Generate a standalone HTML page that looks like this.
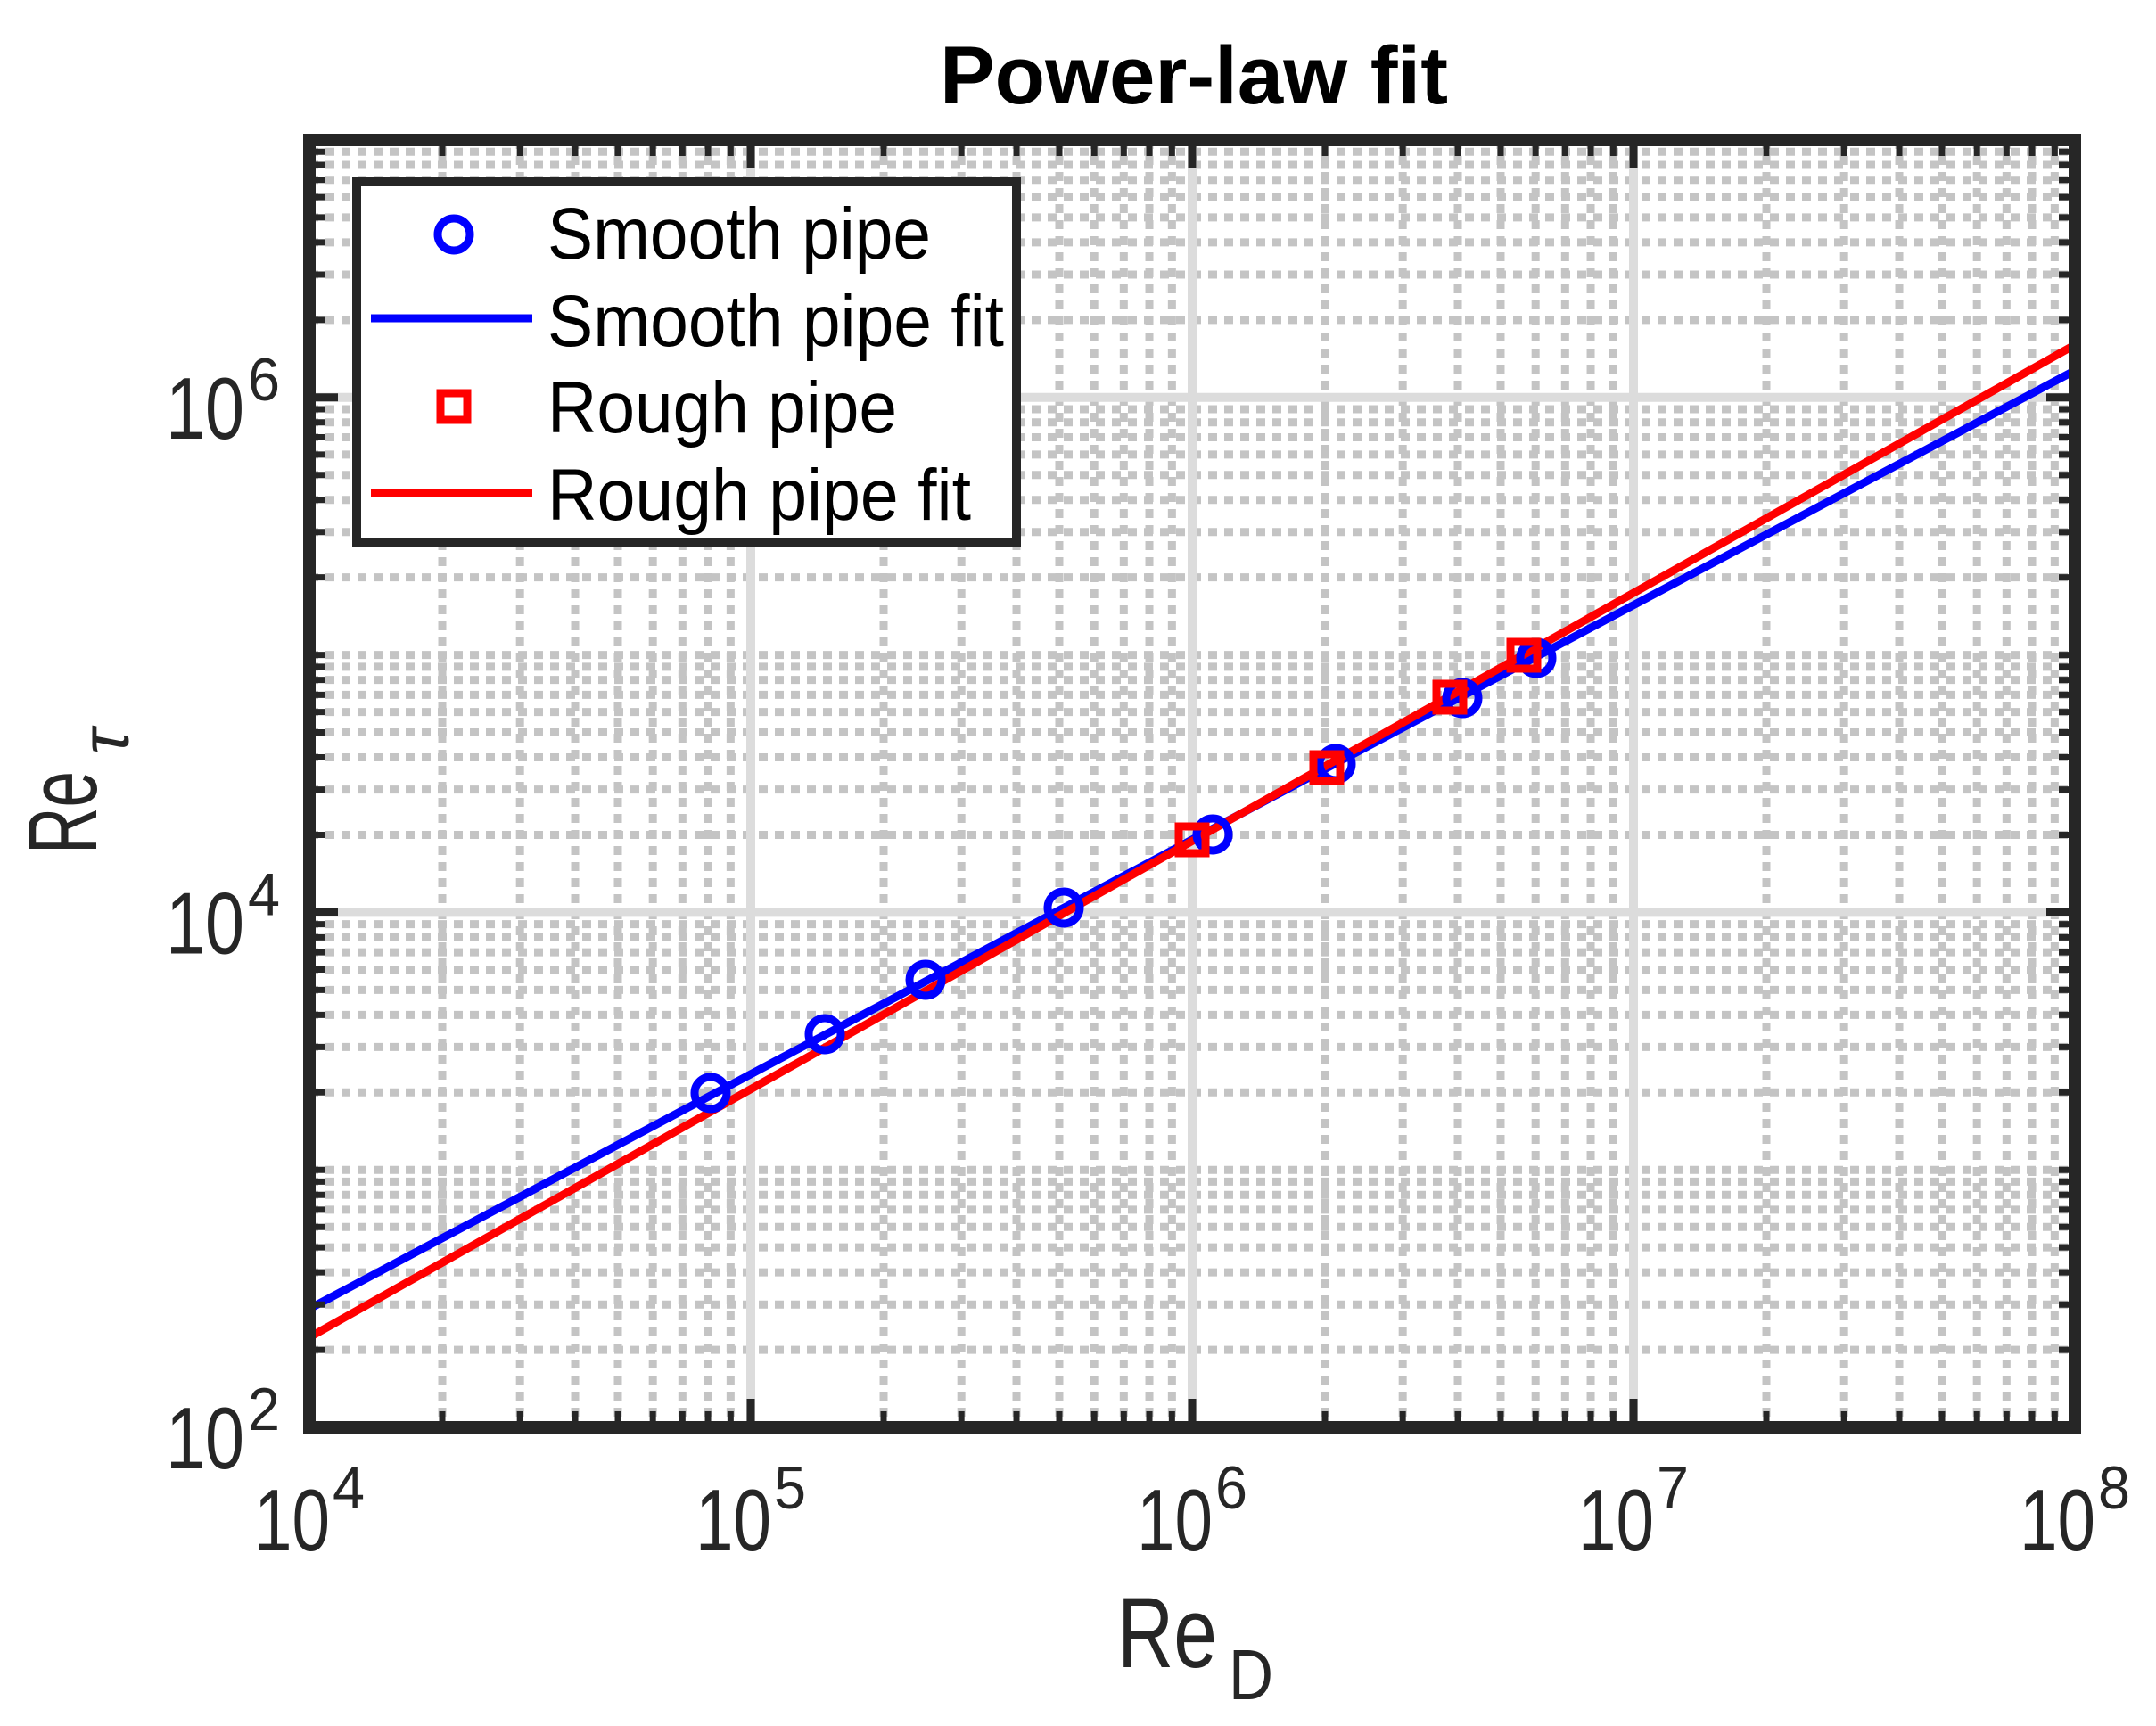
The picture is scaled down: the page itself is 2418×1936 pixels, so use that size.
<!DOCTYPE html>
<html><head><meta charset="utf-8"><style>
html,body{margin:0;padding:0;background:#fff;}
svg{display:block;}
text{font-family:"Liberation Sans",sans-serif;fill:#262626;}
</style></head><body>
<svg id="s" width="2418" height="1936" viewBox="0 0 2418 1936" xmlns="http://www.w3.org/2000/svg">
<rect width="2418" height="1936" fill="#fff"/>
<g id="grid"></g>
<defs><clipPath id="c"><rect x="347" y="157" width="1980" height="1444"/></clipPath></defs>
<g clip-path="url(#c)">
<line x1="347" y1="1468" x2="2332" y2="413" stroke="#0000ff" stroke-width="9"/>
<line x1="347" y1="1500" x2="2332" y2="384" stroke="#ff0000" stroke-width="9"/>
</g>
<g fill="none" stroke="#0000ff" stroke-width="9">
<circle cx="797" cy="1226" r="18"/><circle cx="925" cy="1160" r="18"/><circle cx="1038" cy="1099" r="18"/><circle cx="1193" cy="1018" r="18"/><circle cx="1360" cy="936" r="18"/><circle cx="1498" cy="857" r="18"/><circle cx="1640" cy="783" r="18"/><circle cx="1723" cy="738" r="18"/>
</g>
<g fill="none" stroke="#ff0000" stroke-width="9">
<rect x="1322" y="927" width="30" height="30"/><rect x="1473" y="846" width="30" height="30"/><rect x="1611" y="767" width="30" height="30"/><rect x="1694" y="720" width="30" height="30"/>
</g>
<g id="ticks" stroke="#262626"></g>
<rect x="347" y="157" width="1980" height="1444" fill="none" stroke="#262626" stroke-width="14"/>
<rect x="400" y="204" width="740" height="404" fill="#fff" stroke="#262626" stroke-width="10"/>
<circle cx="509" cy="263" r="18" fill="none" stroke="#0000ff" stroke-width="9"/>
<line x1="416" y1="357" x2="597" y2="357" stroke="#0000ff" stroke-width="9"/>
<rect x="494" y="441" width="30" height="30" fill="none" stroke="#ff0000" stroke-width="9"/>
<line x1="416" y1="553" x2="597" y2="553" stroke="#ff0000" stroke-width="9"/>
<g font-size="82">
<text x="614" y="290" style="fill:#000" textLength="430" lengthAdjust="spacingAndGlyphs">Smooth pipe</text>
<text x="614" y="388" style="fill:#000" textLength="512" lengthAdjust="spacingAndGlyphs">Smooth pipe fit</text>
<text x="614" y="485" style="fill:#000" textLength="392" lengthAdjust="spacingAndGlyphs">Rough pipe</text>
<text x="614" y="583" style="fill:#000" textLength="475" lengthAdjust="spacingAndGlyphs">Rough pipe fit</text>
</g>
<text x="1054" y="116" font-size="92" font-weight="bold" style="fill:#000" textLength="570" lengthAdjust="spacingAndGlyphs">Power-law fit</text>
<g id="labels" font-size="98"></g>
<text x="1253" y="1870" font-size="112" textLength="112" lengthAdjust="spacingAndGlyphs">Re</text>
<text x="1378" y="1906" font-size="80" textLength="50" lengthAdjust="spacingAndGlyphs">D</text>
<g transform="translate(108,958) rotate(-90)"><text x="0" y="0" font-size="110" textLength="93" lengthAdjust="spacingAndGlyphs">Re</text><text x="112" y="36" font-size="76" font-style="italic">τ</text></g>
</svg>
<script>
var NS="http://www.w3.org/2000/svg";
function el(p,n,a,t){var e=document.createElementNS(NS,n);for(var k in a)e.setAttribute(k,a[k]);if(t)e.textContent=t;p.appendChild(e);return e;}
var L=347,R=2327,T=157,B=1601,DX=495,DY=288.8;
function X(l){return L+(l-4)*DX;} function Y(l){return B-(l-2)*DY;}
var g=document.getElementById('grid'),tk=document.getElementById('ticks'),lb=document.getElementById('labels');
for(var d=4;d<8;d++)for(var k=2;k<10;k++){var x=X(d+Math.log10(k));el(g,'line',{x1:x,y1:T,x2:x,y2:B,stroke:'#c4c4c4','stroke-width':9,'stroke-dasharray':'10 8'});
el(tk,'line',{x1:x,y1:B,x2:x,y2:B-18,'stroke-width':7});el(tk,'line',{x1:x,y1:T,x2:x,y2:T+18,'stroke-width':7});}
for(var d=2;d<7;d++)for(var k=1;k<10;k++){if(k==1&&d%2==0)continue;var y=Y(d+Math.log10(k));el(g,'line',{x1:L,y1:y,x2:R,y2:y,stroke:'#c4c4c4','stroke-width':9,'stroke-dasharray':'10 8'});
el(tk,'line',{x1:L,y1:y,x2:L+18,y2:y,'stroke-width':7});el(tk,'line',{x1:R,y1:y,x2:R-18,y2:y,'stroke-width':7});}
for(var d=5;d<8;d++){var x=X(d);el(g,'line',{x1:x,y1:T,x2:x,y2:B,stroke:'#dcdcdc','stroke-width':10});}
[4,6].forEach(function(d){var y=Y(d);el(g,'line',{x1:L,y1:y,x2:R,y2:y,stroke:'#dcdcdc','stroke-width':10});});
for(var d=4;d<=8;d++){var x=X(d);el(tk,'line',{x1:x,y1:B,x2:x,y2:B-32,'stroke-width':9});el(tk,'line',{x1:x,y1:T,x2:x,y2:T+32,'stroke-width':9});
el(lb,'text',{x:x-62,y:1739,textLength:85,lengthAdjust:'spacingAndGlyphs'},'10');el(lb,'text',{x:x+26,y:1692,'font-size':68,textLength:36,lengthAdjust:'spacingAndGlyphs'},''+d);}
[2,4,6].forEach(function(d){var y=Y(d);el(tk,'line',{x1:L,y1:y,x2:L+32,y2:y,'stroke-width':9});el(tk,'line',{x1:R,y1:y,x2:R-32,y2:y,'stroke-width':9});
el(lb,'text',{x:186,y:y+46,textLength:88,lengthAdjust:'spacingAndGlyphs'},'10');el(lb,'text',{x:278,y:y+3,'font-size':68,textLength:36,lengthAdjust:'spacingAndGlyphs'},''+d);});
</script>
</body></html>
